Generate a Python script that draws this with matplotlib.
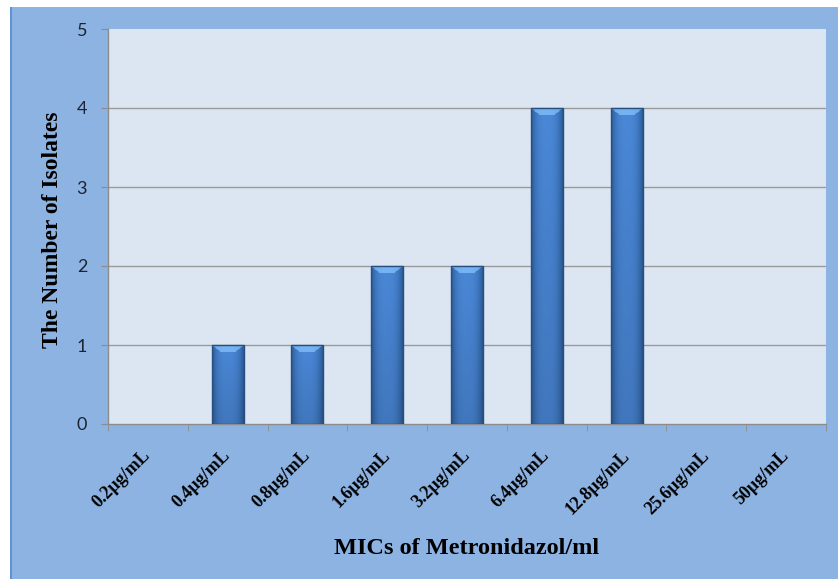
import matplotlib
matplotlib.use('Agg')
import matplotlib.pyplot as plt
import numpy as np
from matplotlib.patches import Rectangle

# data
mic_labels = ['0.2µg/mL', '0.4µg/mL', '0.8µg/mL', '1.6µg/mL', '3.2µg/mL',
              '6.4µg/mL', '12.8µg/mL', '25.6µg/mL', '50µg/mL']
isolates = [0, 1, 1, 2, 2, 4, 4, 0, 0]
y_ticks = [0, 1, 2, 3, 4, 5]

W, H = 838, 579
fig = plt.figure(figsize=(W / 100, H / 100), dpi=100)
fig.patch.set_facecolor('white')

# blue chart frame, like the office chart background
fig.add_artist(Rectangle((10 / W, 0), 1, 1 - 7 / H, transform=fig.transFigure,
                         facecolor='#8db3e2', edgecolor='none', zorder=-10))
fig.add_artist(Rectangle((10 / W, 0), 2 / W, 1 - 7 / H, transform=fig.transFigure,
                         facecolor='#5f93d8', edgecolor='none', zorder=-9))

ax = fig.add_axes([108 / W, 1 - 424 / H, (826 - 108) / W, (424 - 29) / H])
ax.set_facecolor('#dce6f2')

x = np.arange(len(mic_labels))
bars = ax.bar(x, isolates, width=0.4, color='#3f7cc8', linewidth=0, zorder=3)

# shaded bar fill: dark edges, light middle, chamfered light top
edge = np.array([0.17, 0.36, 0.60])
mid = np.array([0.29, 0.53, 0.84])
top = np.array([0.46, 0.70, 0.95])
px_per_unit = (424 - 29) / 5
for b in bars:
    h = b.get_height()
    if h <= 0:
        continue
    ncol = 40
    nrow = max(int(h * px_per_unit), 2)
    t = np.linspace(-1, 1, ncol)
    w = np.clip(1 - np.abs(t) ** 3, 0, 1)
    row = edge[None, :] + (mid - edge)[None, :] * w[:, None]
    img = np.repeat(row[None, :, :], nrow, axis=0)
    fade = np.linspace(1.0, 0.88, nrow)[:, None, None]
    img = img * fade
    bevel = 7
    for r in range(min(bevel, nrow)):
        inset = 1 + int(r * 1.6)
        img[r, inset:ncol - inset] = top * (0.9 + 0.1 * w[inset:ncol - inset, None])
    img = np.clip(img, 0, 1)
    x0 = b.get_x()
    ax.imshow(img, extent=(x0, x0 + b.get_width(), 0, h), aspect='auto',
              zorder=3.2, interpolation='bilinear')
    ax.add_patch(Rectangle((x0, 0), b.get_width(), h, facecolor='none',
                           edgecolor='#284d80', linewidth=1.0, zorder=3.4))

ax.set_xlim(-0.5, len(mic_labels) - 0.5)
ax.set_ylim(0, 5)

for v in y_ticks[1:-1]:
    ax.axhline(v, color='#9a9a9a', linewidth=1.0, zorder=1)

for s in ['top', 'right']:
    ax.spines[s].set_visible(False)
for s in ['left', 'bottom']:
    ax.spines[s].set_color('#8c8c8c')
    ax.spines[s].set_linewidth(1.0)

ax.set_yticks(y_ticks)
ax.set_yticklabels([str(v) for v in y_ticks], fontfamily='Lato', fontsize=13,
                   color='#1c2433')
ax.tick_params(axis='y', length=5, color='#8c8c8c', pad=10)

ax.set_xticks(x)
ax.set_xticklabels(mic_labels, rotation=45, ha='right', va='center',
                   rotation_mode='anchor', fontfamily='Liberation Serif',
                   fontweight='bold', fontsize=13)
ax.tick_params(axis='x', which='major', length=0, pad=21)
ax.set_xticks(np.arange(-0.5, len(mic_labels)), minor=True)
ax.tick_params(axis='x', which='minor', length=5, color='#8c8c8c')

fig.text(467 / W, 1 - 548 / H, 'MICs of Metronidazol/ml', ha='center', va='center',
         fontfamily='Liberation Serif', fontweight='bold', fontsize=17.5)
fig.text(52 / W, 1 - 230 / H, 'The Number of Isolates', ha='center', va='center',
         rotation=90, fontfamily='Liberation Serif', fontweight='bold', fontsize=17)

fig.savefig('out.png', dpi=100, facecolor=fig.get_facecolor())
